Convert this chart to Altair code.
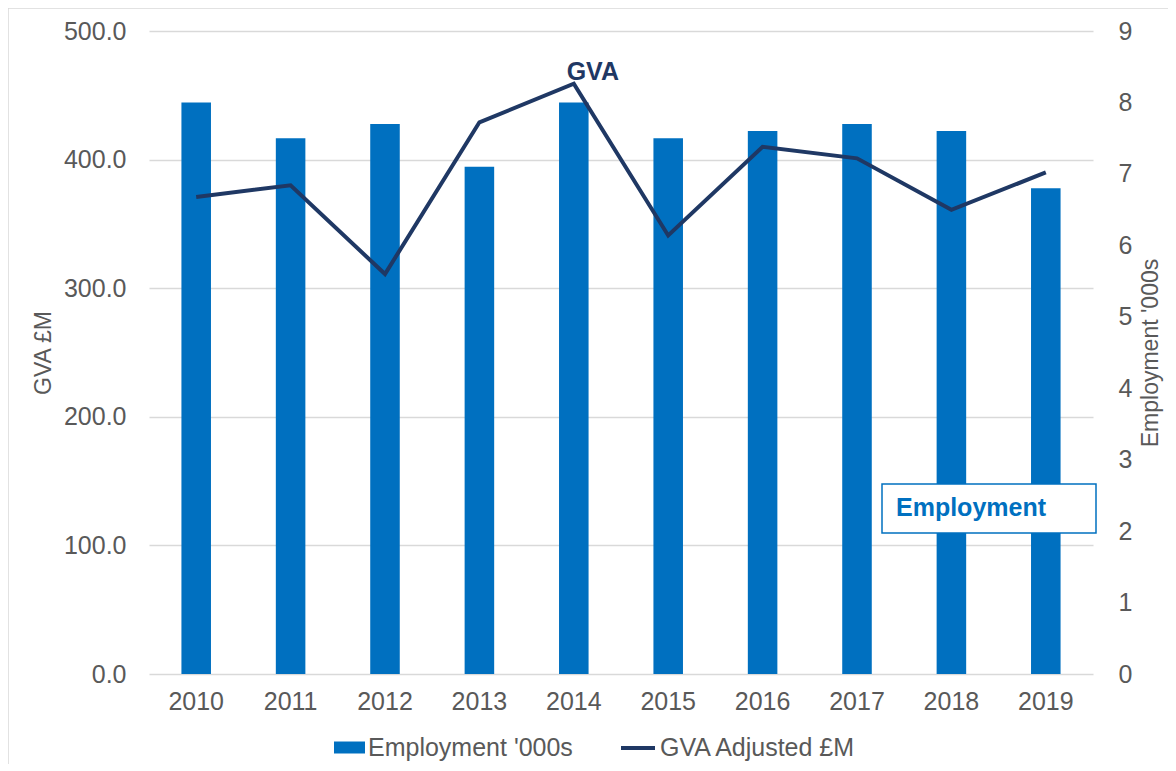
import altair as alt
import pandas as pd

# ---- data ----
years = ["2010", "2011", "2012", "2013", "2014", "2015", "2016", "2017", "2018", "2019"]
employment = [8.0, 7.5, 7.7, 7.1, 8.0, 7.5, 7.6, 7.7, 7.6, 6.8]          # '000s (right axis)
gva = [371, 380, 311, 429, 459, 341, 410, 401, 361, 390]                 # £M (left axis)
gva_ticks = [0, 100, 200, 300, 400, 500]
emp_ticks = [0, 1, 2, 3, 4, 5, 6, 7, 8, 9]
emp_name = "Employment '000s"
gva_name = "GVA Adjusted £M"
gva_label_year = ["2014"]
gva_label_value = [459]
gva_label_text = ["GVA"]
box_text = "Employment"

BLUE = "#0070C0"
NAVY = "#1F3864"
GREY = "#595959"
GRID = "#D9D9D9"
FONT = "Liberation Sans"

df = pd.DataFrame({
    "year": years,
    "employment": employment,
    "gva": gva,
    "emp_series": [emp_name] * len(years),
    "gva_series": [gva_name] * len(years),
})
ann = pd.DataFrame({"year": gva_label_year, "gva": gva_label_value, "label": gva_label_text})

W, H = 944, 643

x_enc = alt.X(
    "year:O",
    scale=alt.Scale(paddingInner=0.687, paddingOuter=0.3435),
    axis=alt.Axis(title=None, labelAngle=0, ticks=False, domain=False, grid=False,
                  labelPadding=15, labelFontSize=25, labelColor=GREY, labelFont=FONT),
)

bars = alt.Chart(df).mark_bar().encode(
    x=x_enc,
    y=alt.Y("employment:Q", scale=alt.Scale(domain=[0, 9], nice=False),
            axis=alt.Axis(orient="right", values=emp_ticks, format="d", grid=False,
                          ticks=False, domain=False, labelPadding=25,
                          labelFontSize=25, labelColor=GREY, labelFont=FONT,
                          title=emp_name, titleAngle=270, titleBaseline="top",
                          titleFontSize=23, titleFontWeight="normal", titleColor=GREY,
                          titleFont=FONT, titlePadding=8)),
    fill=alt.Fill("emp_series:N",
                  scale=alt.Scale(domain=[emp_name], range=[BLUE]),
                  legend=alt.Legend(title=None, orient="none", legendX=185, legendY=701,
                                    symbolType="M-1,-0.387H1V0.387H-1Z", symbolSize=961,
                                    symbolStrokeWidth=0, labelFontSize=25, labelColor=GREY,
                                    labelFont=FONT, labelOffset=3, padding=0, labelLimit=0)),
)

line = alt.Chart(df).mark_line(strokeWidth=4).encode(
    x=x_enc,
    y=alt.Y("gva:Q", scale=alt.Scale(domain=[0, 500], nice=False),
            axis=alt.Axis(orient="left", values=gva_ticks, format=".1f", grid=True,
                          gridColor=GRID, gridWidth=1.3, ticks=False, domain=False,
                          labelPadding=23, labelFontSize=25, labelColor=GREY, labelFont=FONT,
                          title="GVA £M", titleFontSize=23, titleFontWeight="normal",
                          titleColor=GREY, titleFont=FONT, titlePadding=8)),
    stroke=alt.Stroke("gva_series:N",
                      scale=alt.Scale(domain=[gva_name], range=[NAVY]),
                      legend=alt.Legend(title=None, orient="none", legendX=470, legendY=698,
                                        symbolType="stroke", symbolSize=1156,
                                        symbolStrokeWidth=4, labelFontSize=25,
                                        labelColor=GREY, labelFont=FONT, labelOffset=3,
                                        padding=0, labelLimit=0)),
)

gva_text = alt.Chart(ann).mark_text(
    fontSize=25, fontWeight="bold", color=NAVY, font=FONT, dx=19, dy=-12,
    baseline="middle", align="center"
).encode(
    x=x_enc,
    y=alt.Y("gva:Q", scale=alt.Scale(domain=[0, 500], nice=False), axis=None),
    text="label:N",
)

one = alt.Data(values=[{"a": 1}])
box = alt.Chart(one).mark_rect(fill="white", stroke=BLUE, strokeWidth=1.5).encode(
    x=alt.value(733), x2=alt.value(947), y=alt.value(453), y2=alt.value(502)
)
box_label = alt.Chart(one).mark_text(
    text=box_text, fontSize=25, fontWeight="bold", color=BLUE, font=FONT,
    align="left", baseline="middle"
).encode(x=alt.value(747), y=alt.value(477))

# outer chart border (top and left edges fall inside the window)
frame_top = alt.Chart(one).mark_rule(color=GRID, strokeWidth=1.5).encode(
    x=alt.value(-141), x2=alt.value(1040), y=alt.value(-23)
)
frame_left = alt.Chart(one).mark_rule(color=GRID, strokeWidth=1.5).encode(
    x=alt.value(-141), y=alt.value(-23), y2=alt.value(760)
)

chart = alt.layer(frame_top, frame_left, bars, line, gva_text, box, box_label).resolve_scale(
    y="independent", fill="independent", stroke="independent"
).properties(
    width=W, height=H,
    autosize=alt.AutoSizeParams(type="none"),
    padding={"left": 141, "top": 23, "right": 75, "bottom": 90},
    view=alt.ViewBackground(stroke="transparent", strokeWidth=0),
).configure(
    background="white",
    view=alt.ViewConfig(stroke="transparent", strokeWidth=0),
    axis=alt.AxisConfig(domain=False, ticks=False),
)

chart.save("out.html", embed_options={"renderer": "svg", "actions": False})
